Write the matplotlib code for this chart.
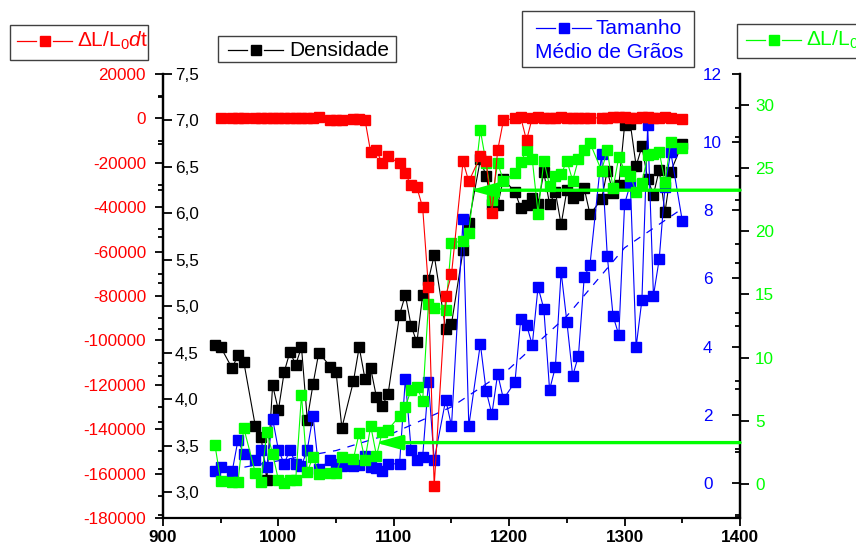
import numpy as np
import matplotlib
matplotlib.use('Agg')
import matplotlib.pyplot as plt
from matplotlib.ticker import MultipleLocator, FuncFormatter
from matplotlib.patches import Rectangle
from matplotlib.lines import Line2D

# temperatures (shared by all series)
temps = [945, 950, 960, 965, 970, 980, 985, 990, 995, 1000,
         1005, 1010, 1015, 1020, 1025, 1030, 1035, 1045, 1050, 1055,
         1065, 1070, 1075, 1080, 1085, 1090, 1095, 1105, 1110, 1115,
         1120, 1125, 1130, 1135, 1145, 1150, 1160, 1165, 1175, 1180,
         1185, 1190, 1195, 1205, 1210, 1215, 1220, 1225, 1230, 1235,
         1240, 1245, 1250, 1255, 1260, 1265, 1270, 1280, 1285, 1290,
         1295, 1300, 1305, 1310, 1315, 1320, 1325, 1330, 1335, 1340,
         1350]

# dL/L0 dt
dldt = [np.nan, 0, 300, 200, 0, 0, 100, 0, 0, 100,
        0, 0, 100, 0, 200, 300, 800, -600, -900, -500,
        -300, -300, -500, -15300, -14400, -20300, -17100, -20300, -24800, -30200,
        -31100, -40100, -76000, -165600, -80100, -70200, -19400, -28400, -17100, -19400,
        -42800, -14400, -900, 0, 500, -9900, 300, 600, 300, 0,
        300, 500, 200, 0, 400, 300, 0, 400, 300, 600,
        500, 700, 400, 300, 500, 600, 300, 400, 500, 200,
        -200]

# Densidade
densidade = [4.58, 4.56, 4.33, 4.48, 4.40, 3.71, 3.59, 3.13, 4.15, 3.88,
             4.29, 4.51, 4.37, 4.56, 3.78, 4.16, 4.50, 4.35, 4.29, 3.69,
             4.19, 4.56, 4.22, 4.33, 4.02, 3.93, 4.05, 4.91, 5.12, 4.79,
             4.61, 5.12, 5.28, 5.55, 4.75, 4.81, 5.60, 5.90, 6.58, 6.40,
             6.10, 6.09, 6.37, 6.23, 6.06, 6.09, 6.17, 6.10, 6.44, 6.10,
             6.23, 5.88, 6.25, 6.16, 6.20, 6.27, 5.99, 6.15, 6.46, 6.22,
             6.30, 6.95, 6.96, 6.51, 6.72, 6.37, 6.20, 6.47, 6.01, 6.45,
             6.75]

# Tamanho medio de graos
tamanho = [0.35, 0.47, 0.35, 1.26, 0.85, 0.67, 0.97, 0.47, 1.88, 0.97,
           0.56, 0.97, 0.56, 0.50, 0.97, 1.97, 0.41, 0.67, 0.56, 0.50,
           0.50, 0.53, 0.79, 0.47, 0.44, 0.35, 0.56, 0.56, 3.05, 0.97,
           0.67, 0.76, 2.96, 0.67, 2.44, 1.67, 7.75, 1.67, 4.08, 2.70,
           2.02, 3.20, 2.46, 2.96, 4.81, 4.64, 4.05, 5.75, 5.11, 2.73,
           3.40, 6.19, 4.72, 3.14, 3.73, 6.04, 6.40, 9.65, 6.66, 4.90,
           4.34, 8.19, 8.77, 3.99, 5.37, 10.50, 5.49, 6.57, 8.69, 9.71,
           7.69]

# dL/L0
dl = [3.09, 0.24, 0.16, 0.16, 4.43, 0.87, 0.16, 4.12, 2.38, 0.32,
      0.08, 0.32, 0.32, 7.05, 0.95, 2.14, 0.79, 0.87, 0.87, 2.14,
      1.98, 4.04, 1.90, 4.59, 2.22, 4.12, 4.28, 5.38, 6.10, 7.44,
      7.68, 6.57, 14.25, 13.9, 13.8, 19.1, 19.2, 19.9, 28.0, 25.4,
      22.5, 25.4, 24.0, 24.6, 25.5, 26.4, 25.7, 21.4, 25.6, 23.6,
      24.4, 24.5, 25.6, 24.0, 25.7, 26.4, 27.0, 24.8, 26.4, 23.4,
      25.9, 24.8, 24.4, 23.1, 23.8, 26.0, 26.1, 26.3, 23.9, 27.1,
      26.6]

# dashed trend of grain size
fit_temps = [945, 1000, 1050, 1100, 1150, 1200, 1250, 1300, 1350]
fit_size = [0.30, 0.65, 0.95, 1.47, 2.23, 3.35, 4.90, 6.90, 8.05]

# green arrows (level on dL/L0 axis, tip temperature)
arrow_level = [23.25, 3.27]
arrow_tip = [1166, 1084]

RED, BLACK, BLUE, GREEN = '#ff0000', '#000000', '#0000ff', '#00ff00'
W, H = 856, 547

plt.rcParams['font.family'] = ['Liberation Sans', 'DejaVu Sans']
plt.rcParams['axes.unicode_minus'] = False
plt.rcParams['mathtext.fontset'] = 'custom'
plt.rcParams['mathtext.rm'] = 'Liberation Sans'
plt.rcParams['mathtext.it'] = 'Liberation Sans:italic'

fig = plt.figure(figsize=(W / 100, H / 100), dpi=100)
rect = [163 / W, 1 - 518 / H, 577 / W, 444 / H]
ax_red = fig.add_axes(rect)
ax_black = ax_red.twinx()
ax_blue = ax_red.twinx()
ax_green = ax_red.twinx()

for i, a in enumerate([ax_black, ax_blue, ax_green, ax_red]):
    a.set_zorder(i + 1)
    a.patch.set_visible(False)
    for s in a.spines.values():
        s.set_visible(False)

comma = FuncFormatter(lambda v, p: f'{v:.1f}'.replace('.', ','))
mk = dict(marker='s', ms=7.5, lw=0.8)

# red axis (left, outside)
ax_red.plot(temps, dldt, color=RED, mec=RED, **mk)
ax_red.set_xlim(900, 1400)
ax_red.set_ylim(-180000, 20000)
ax_red.spines['left'].set_visible(True)
ax_red.spines['bottom'].set_visible(True)
ax_red.spines['left'].set_linewidth(1.6)
ax_red.spines['bottom'].set_linewidth(1.6)
ax_red.yaxis.set_major_locator(MultipleLocator(20000))
ax_red.yaxis.set_minor_locator(MultipleLocator(10000))
ax_red.xaxis.set_major_locator(MultipleLocator(100))
ax_red.xaxis.set_minor_locator(MultipleLocator(50))
ax_red.tick_params(axis='y', which='major', direction='out', length=6, width=1.3,
                   pad=6.2, labelsize=12.3, labelcolor=RED)
ax_red.tick_params(axis='y', which='minor', direction='out', length=3.5, width=1.3)
ax_red.tick_params(axis='x', which='major', direction='out', length=5.5, width=1.3,
                   pad=3.5, labelsize=12.3)
ax_red.tick_params(axis='x', which='minor', direction='out', length=3.5, width=1.3)
for lbl in ax_red.get_xticklabels():
    lbl.set_fontweight('bold')

# black axis (left, labels inside)
ax_black.plot(temps, densidade, color=BLACK, mec=BLACK, **mk)
ax_black.set_ylim(2.72, 7.5)
ax_black.spines['right'].set_visible(True)
ax_black.spines['right'].set_position(('axes', 0.0))
ax_black.spines['right'].set_linewidth(1.6)
ax_black.yaxis.set_major_locator(MultipleLocator(0.5))
ax_black.yaxis.set_minor_locator(MultipleLocator(0.25))
ax_black.yaxis.set_major_formatter(comma)
ax_black.tick_params(axis='y', which='major', direction='out', length=6.5, width=1.3,
                     pad=2.1, labelsize=12.3, labelcolor=BLACK)
ax_black.tick_params(axis='y', which='minor', direction='in', length=3.5, width=1.3)

# blue axis (right, labels inside)
ax_blue.plot(temps, tamanho, color=BLUE, mec=BLUE, **mk)
ax_blue.plot(fit_temps, fit_size, color=BLUE, lw=0.9, ls=(0, (6, 6)))
ax_blue.set_ylim(-1.03, 12.0)
ax_blue.yaxis.tick_left()
ax_blue.spines['left'].set_visible(True)
ax_blue.spines['left'].set_position(('axes', 1.0))
ax_blue.spines['left'].set_linewidth(1.6)
ax_blue.set_yticks(range(0, 13, 2))
ax_blue.yaxis.set_minor_locator(MultipleLocator(1))
ax_blue.tick_params(axis='y', which='major', direction='out', length=6, width=1.3,
                    pad=20.6, labelsize=12.3, labelcolor=BLUE)
ax_blue.tick_params(axis='y', which='minor', direction='out', length=3.5, width=1.3)
for lbl in ax_blue.get_yticklabels():
    lbl.set_horizontalalignment('left')

# green axis (right, outside)
ax_green.plot(temps, dl, color=GREEN, mec=GREEN, **mk)
ax_green.set_ylim(-2.7, 32.45)
ax_green.spines['right'].set_visible(True)
ax_green.spines['right'].set_linewidth(1.6)
ax_green.yaxis.set_major_locator(MultipleLocator(5))
ax_green.yaxis.set_minor_locator(MultipleLocator(2.5))
ax_green.tick_params(axis='y', which='major', direction='out', length=6.5, width=1.3,
                     pad=4.3, labelsize=12.3, labelcolor=GREEN)
ax_green.tick_params(axis='y', which='minor', direction='in', length=3.5, width=1.3)

# arrows
for lev, tip in zip(arrow_level, arrow_tip):
    ax_red.annotate('', xy=(tip, lev), xycoords=('data', ax_green.transData),
                    xytext=(1400, lev), textcoords=('data', ax_green.transData),
                    arrowprops=dict(arrowstyle='-|>,head_length=0.8,head_width=0.22',
                                    mutation_scale=20, lw=2.4, color=GREEN,
                                    shrinkA=0, shrinkB=0))


def legend_box(box, hx, hy, color, texts):
    x0, y0, x1, y1 = box
    fig.add_artist(Rectangle((x0 / W, 1 - y1 / H), (x1 - x0) / W, (y1 - y0) / H,
                             transform=fig.transFigure, fill=False, ec='#404040', lw=1.0))
    for a, b in [(hx, hx + 19), (hx + 36, hx + 55)]:
        fig.add_artist(Line2D([a / W, b / W], [1 - hy / H] * 2, transform=fig.transFigure,
                              color=color, lw=0.9))
    fig.add_artist(Line2D([(hx + 27.5) / W], [1 - hy / H], transform=fig.transFigure,
                          marker='s', ms=6.5, color=color, ls='none'))
    for tx, ty, s in texts:
        fig.text(tx / W, 1 - ty / H, s, color=color, fontsize=15, va='center', ha='left')


legend_box((10, 25, 148, 60), 17, 41, RED, [(77, 41, 'ΔL/L$_0$$\\mathit{d}$t')])
legend_box((218, 36, 396, 62), 228, 50, BLACK, [(289, 50, 'Densidade')])
legend_box((522, 11, 694, 67), 536, 28, BLUE,
           [(596, 28, 'Tamanho'), (535, 53, 'Médio de Grãos')])
legend_box((737, 24, 900, 58), 746, 40, GREEN, [(806, 40, 'ΔL/L$_0$')])

fig.savefig('out.png', dpi=100)
